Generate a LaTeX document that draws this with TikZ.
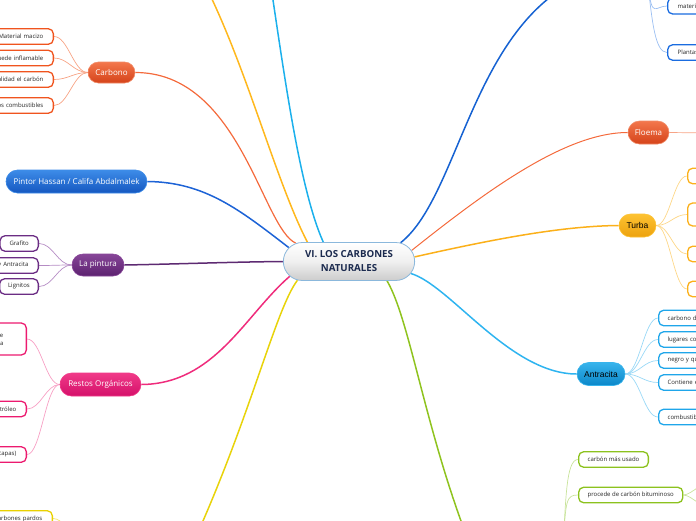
\documentclass[tikz,border=0pt]{standalone}
\usepackage{fontspec}
\setmainfont{Open Sans}
\newfontfamily\arialf{Liberation Sans}
\usetikzlibrary{shapes.misc,backgrounds}
\definecolor{orT}{HTML}{F3774C}\definecolor{orB}{HTML}{D5431A}\definecolor{orL}{HTML}{F08A66}
\definecolor{orK}{HTML}{F0541E}\definecolor{orW}{HTML}{F7A486}\definecolor{orTr}{HTML}{F46A3C}
\definecolor{blT}{HTML}{3D8CE8}\definecolor{blB}{HTML}{1557C0}\definecolor{blTr}{HTML}{1D63D6}
\definecolor{puT}{HTML}{874698}\definecolor{puB}{HTML}{5C2270}\definecolor{puTr}{HTML}{5D2A72}
\definecolor{puK}{HTML}{6B2D84}\definecolor{puW}{HTML}{B58CC4}
\definecolor{piT}{HTML}{F03A88}\definecolor{piB}{HTML}{D4106A}\definecolor{piTr}{HTML}{EF2C7C}
\definecolor{piK}{HTML}{EC1A6F}\definecolor{piW}{HTML}{F7A0C4}
\definecolor{tuT}{HTML}{FDC232}\definecolor{tuB}{HTML}{EDA20E}\definecolor{tuTr}{HTML}{FBB01A}
\definecolor{tuW}{HTML}{FDD788}
\definecolor{anT}{HTML}{38B4EC}\definecolor{anB}{HTML}{0B87C9}\definecolor{anTr}{HTML}{2EB4F0}
\definecolor{anK}{HTML}{1FA6EA}\definecolor{anW}{HTML}{99D8F6}
\definecolor{grTr}{HTML}{8FC31F}\definecolor{grK}{HTML}{8CC21E}\definecolor{grW}{HTML}{C8E39A}
\definecolor{yeTr}{HTML}{E8D30A}\definecolor{yeK}{HTML}{E9D100}
\definecolor{goTr}{HTML}{FFB81E}\definecolor{lbTr}{HTML}{1BB0EC}
\definecolor{rbTr}{HTML}{1662D2}\definecolor{rbK}{HTML}{1A6CE0}\definecolor{rbW}{HTML}{9BBFF2}
\definecolor{ctrL}{HTML}{8BB8DC}\definecolor{navy}{HTML}{1B2A4E}
\begin{document}
\begin{tikzpicture}[x=1pt,y=-1pt,
  main/.style={rounded rectangle, minimum height=22pt, inner xsep=6pt, text=white,
    font=\fontsize{8}{9.6}\selectfont, line width=0.6pt},
  kid/.style={draw=#1, fill=white, rounded corners=5pt, line width=1.3pt,
    minimum height=15.5pt, inner ysep=0pt, font=\fontsize{6}{7.5}\selectfont, text=black!85},
  trunk/.style={draw=#1, line width=1.5pt},
  twig/.style={draw=#1, line width=0.7pt}]
\useasboundingbox (0,0) rectangle (696,520);
% central node
\node[rounded rectangle, minimum width=138pt, minimum height=38pt, top color=white,
  bottom color=black!20, middle color=black!6, draw=ctrL, line width=0.8pt, align=center,
  font=\bfseries\fontsize{9.7}{14}\selectfont, text=navy] (ctr) at (349,261.5)
  {VI. LOS CARBONES\\NATURALES};
% main nodes
\node[main, minimum width=59pt, minimum height=21pt, top color=orT, bottom color=orB, draw=orL] (carb) at (111.5,72.5) {Carbono};
\node[main, minimum width=153pt, minimum height=23pt, top color=blT, bottom color=blB, draw=blT] (pint) at (76.5,181.5) {Pintor Hassan / Califa Abdalmalek};
\node[main, minimum width=64pt, minimum height=22pt, top color=puT, bottom color=puB, draw=puT] (pintu) at (98,265) {La pintura};
\node[main, minimum width=93pt, minimum height=23pt, top color=piT, bottom color=piB, draw=piT] (rest) at (100.5,384.5) {Restos Orgánicos};
\node[main, minimum width=53pt, minimum height=23pt, top color=orT, bottom color=orB, draw=orL] (floe) at (648.5,132.5) {Floema};
\node[main, minimum width=49pt, minimum height=23pt, top color=tuT, bottom color=tuB, draw=tuT, text=black, font=\arialf\fontsize{8.5}{10}\selectfont] (turb) at (637.5,225.5) {Turba};
\node[main, minimum width=60pt, minimum height=23pt, top color=anT, bottom color=anB, draw=anT, text=black, font=\arialf\fontsize{8.5}{10}\selectfont] (antr) at (601,374) {Antracita};
% off-canvas ends
\coordinate (topY) at (200,-25);
\coordinate (topLB) at (270,-20);
\coordinate (topRB) at (560,-10);
\coordinate (botG) at (470,545);
\coordinate (botY) at (190,550);
\coordinate (gP) at (563,545);
\coordinate (bP) at (648,-15);
\coordinate (fK) at (712,133);
\coordinate (pK1) at (715,478);
\coordinate (pK2) at (715,512);
\coordinate (yP) at (75,548);
% Carbono children
\node[kid=orK, anchor=east, text width=80pt, inner xsep=10pt, align=right] (c1) at (54,36.5) {Material macizo};
\node[kid=orK, anchor=east, text width=80pt, inner xsep=10pt, align=right] (c2) at (54,58) {uede inflamable};
\node[kid=orK, anchor=east, text width=80pt, inner xsep=10pt, align=right] (c3) at (54,79.5) {alidad el carbón};
\node[kid=orK, anchor=east, text width=80pt, inner xsep=10pt, align=right] (c4) at (54,105.5) {os combustibles};
% La pintura children
\node[kid=puK, anchor=east, inner xsep=9.5pt] (p1) at (39,243.5) {Grafito};
\node[kid=puK, anchor=east, text width=60pt, inner xsep=10pt, align=right] (p2) at (39,265.5) {y Antracita};
\node[kid=puK, anchor=east, inner xsep=8.5pt] (p3) at (39,286.5) {Lignitos};
% Restos children
\node[kid=piK, anchor=east, text width=60pt, inner xsep=1pt, align=right, minimum height=32pt] (r1) at (27,339) {le\kern22pt\\a\kern22pt};
\node[kid=piK, anchor=east, text width=60pt, inner xsep=10pt, align=right] (r2) at (27,409) {tróleo};
\node[kid=piK, anchor=east, text width=60pt, inner xsep=10pt, align=right] (r3) at (27,454.5) {capas)};
% yellow bottom child
\node[kid=yeK, anchor=east, text width=80pt, inner xsep=10pt, align=right] (y1) at (53,518.5) {carbones pardos};
% right top blue children
\node[kid=rbK, anchor=west, text width=60pt, inner xsep=10pt, align=left, minimum height=16pt] (b1) at (667,6) {materia};
\node[kid=rbK, anchor=west, text width=60pt, inner xsep=10pt, align=left] (b2) at (667,52.5) {Plantas};
% Turba children
\node[kid=tuTr, anchor=west, minimum width=40pt] (t1) at (687,176) {};
\node[kid=tuTr, anchor=west, minimum width=40pt, minimum height=23pt] (t2) at (687,214.5) {};
\node[kid=tuTr, anchor=west, minimum width=40pt] (t3) at (687,254) {};
\node[kid=tuTr, anchor=west, minimum width=40pt] (t4) at (687,289) {};
% Antracita children
\node[kid=anK, anchor=west, text width=80pt, inner xsep=9pt, align=left] (a1) at (658,318) {carbono de};
\node[kid=anK, anchor=west, text width=80pt, inner xsep=9pt, align=left] (a2) at (658,339.5) {lugares con};
\node[kid=anK, anchor=west, text width=80pt, inner xsep=9pt, align=left] (a3) at (658,360.5) {negro y qu};
\node[kid=anK, anchor=west, text width=80pt, inner xsep=9pt, align=left] (a4) at (658,382.5) {Contiene el};
\node[kid=anK, anchor=west, text width=80pt, inner xsep=9pt, align=left] (a5) at (658,417) {combustible};
% green children
\node[kid=grK, anchor=west, inner xsep=9pt] (g1) at (578,459.5) {carbón más usado};
\node[kid=grK, anchor=west, inner xsep=9pt] (g2) at (578,495) {procede de carbón bituminoso};
\begin{scope}[on background layer]
% trunks
\draw[trunk=orTr, line width=1.2pt] (carb.east) .. controls (240,72.5) and (262,228) .. (ctr.161);
\draw[trunk=blTr] (pint.east) .. controls (205,182) and (240,210) .. (ctr.167);
\draw[trunk=puTr] (pintu.east) .. controls (180,264) and (230,262) .. (ctr.west);
\draw[trunk=piTr] (rest.east) .. controls (215,384) and (245,315) .. (ctr.194);
\draw[trunk=yeTr] (botY) .. controls (250,420) and (275,310) .. (ctr.200);
\draw[trunk=goTr] (topY) .. controls (245,60) and (275,180) .. (ctr.155);
\draw[trunk=lbTr] (topLB) .. controls (285,80) and (300,190) .. (ctr.143);
\draw[trunk=rbTr] (topRB) .. controls (470,50) and (455,200) .. (ctr.20);
\draw[trunk=orTr, line width=1pt] (floe.west) .. controls (565,132.5) and (485,192) .. (ctr.10);
\draw[trunk=tuTr] (turb.west) .. controls (560,226) and (490,240) .. (ctr.4);
\draw[trunk=anTr] (antr.west) .. controls (510,374) and (450,285) .. (ctr.349);
\draw[trunk=grTr] (botG) .. controls (425,430) and (410,320) .. (ctr.333);
% twigs
\foreach \k in {c1,c2,c3,c4}{\draw[twig=orW] (carb.west) .. controls +(-14,0) and +(14,0) .. (\k.east);}
\foreach \k in {p1,p2,p3}{\draw[twig=puW] (pintu.west) .. controls +(-14,0) and +(14,0) .. (\k.east);}
\foreach \k in {r1,r2,r3}{\draw[twig=piW] (rest.west) .. controls +(-14,0) and +(14,0) .. (\k.east);}
\foreach \k in {t1,t2,t3,t4}{\draw[twig=tuW] (turb.east) .. controls +(13,0) and +(-13,0) .. (\k.west);}
\foreach \k in {a1,a2,a3,a4,a5}{\draw[twig=anW] (antr.east) .. controls +(14,0) and +(-14,0) .. (\k.west);}
\foreach \k in {b1,b2}{\draw[twig=rbW] (bP) .. controls +(4,35) and +(-12,0) .. (\k.west);}
\foreach \k in {g1,g2}{\draw[twig=grW] (gP) .. controls +(3,-45) and +(-12,0) .. (\k.west);}
\draw[twig=orW] (floe.east) -- (fK);
\draw[twig=grW] (g2.east) .. controls +(8,0) and +(-8,0) .. (pK1);
\draw[twig=grW] (g2.east) .. controls +(8,0) and +(-8,0) .. (pK2);
\draw[twig=yeK!60] (y1.east) .. controls +(10,0) and +(-5,-15) .. (yP);
\end{scope}
\end{tikzpicture}
\end{document}
